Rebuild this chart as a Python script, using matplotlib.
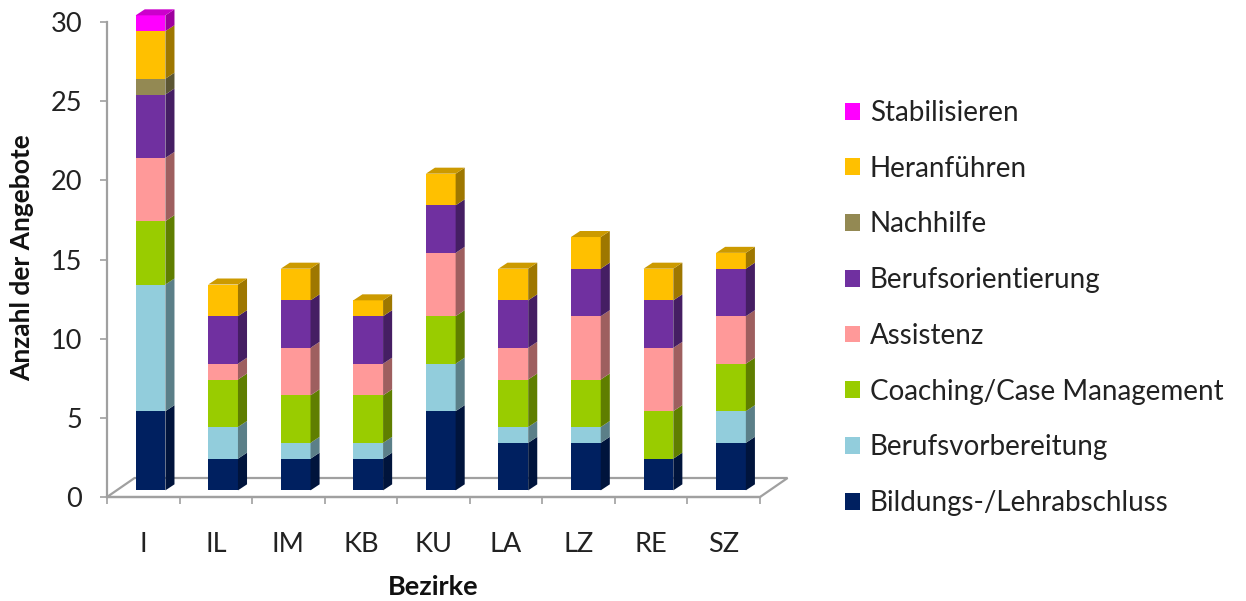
import matplotlib

matplotlib.use("Agg")
import matplotlib.pyplot as plt
import numpy as np
from matplotlib.colors import to_rgb
from matplotlib.patches import Patch, Polygon

plt.rcParams["font.family"] = ["Lato", "DejaVu Sans"]

districts = ["I", "IL", "IM", "KB", "KU", "LA", "LZ", "RE", "SZ"]
series_names = [
    "Bildungs-/Lehrabschluss",
    "Berufsvorbereitung",
    "Coaching/Case Management",
    "Assistenz",
    "Berufsorientierung",
    "Nachhilfe",
    "Heranführen",
    "Stabilisieren",
]
bildung = [5, 2, 2, 2, 5, 3, 3, 2, 3]
vorbereitung = [8, 2, 1, 1, 3, 1, 1, 0, 2]
coaching = [4, 3, 3, 3, 3, 3, 3, 3, 3]
assistenz = [4, 1, 3, 2, 4, 2, 4, 4, 3]
orientierung = [4, 3, 3, 3, 3, 3, 3, 3, 3]
nachhilfe = [1, 0, 0, 0, 0, 0, 0, 0, 0]
heranfuehren = [3, 2, 2, 1, 2, 2, 2, 2, 1]
stabilisieren = [1, 0, 0, 0, 0, 0, 0, 0, 0]
series_colors = ["#002060", "#92CDDC", "#99CC00", "#FF9999", "#7030A0", "#938953", "#FFC000", "#FF00FF"]

all_series = [bildung, vorbereitung, coaching, assistenz, orientierung, nachhilfe, heranfuehren, stabilisieren]

# fake 3d look (Excel style)
BAR_W = 0.41
BAR_SHIFT = 0.1
LIFT = 0.42
DEPTH_X = 0.125
DEPTH_Y = 0.38
FLOOR_X = 0.38
FLOOR_Y = 1.2
GRAY = "#A0A0A0"
TEXT = "#222222"


def shade(color, factor):
    return tuple(c * factor for c in to_rgb(color))


fig = plt.figure(figsize=(12.46, 6.01), dpi=100)
ax = fig.add_axes([107 / 1246, 104 / 601, 653 / 1246, 475 / 601])
ax.set_xlim(-0.5, len(districts) - 0.5)
ax.set_ylim(0, 30)

floor = Polygon(
    [(-0.5, 0), (-0.5 + FLOOR_X, FLOOR_Y), (len(districts) - 0.5 + FLOOR_X, FLOOR_Y), (len(districts) - 0.5, 0)],
    closed=True, facecolor="white", edgecolor=GRAY, linewidth=1.6, clip_on=False, zorder=1,
)
ax.add_patch(floor)

xs = np.arange(len(districts)) + BAR_SHIFT
bottoms = np.full(len(districts), LIFT, dtype=float)
for values, color in zip(all_series, series_colors):
    values = np.asarray(values, dtype=float)
    ax.bar(xs, values, width=BAR_W, bottom=bottoms, color=color, linewidth=0, zorder=3, clip_on=False)
    for x, v, b in zip(xs, values, bottoms):
        if v <= 0:
            continue
        x1 = x + BAR_W / 2
        side = Polygon(
            [(x1, b), (x1 + DEPTH_X, b + DEPTH_Y), (x1 + DEPTH_X, b + v + DEPTH_Y), (x1, b + v)],
            closed=True, facecolor=shade(color, 0.62), linewidth=0, zorder=3, clip_on=False,
        )
        ax.add_patch(side)
    bottoms = bottoms + values

for i, (x, top) in enumerate(zip(xs, bottoms)):
    # colour of the highest non-zero segment
    top_color = [c for vals, c in zip(all_series, series_colors) if vals[i] > 0][-1]
    x0 = x - BAR_W / 2
    x1 = x + BAR_W / 2
    lid = Polygon(
        [(x0, top), (x1, top), (x1 + DEPTH_X, top + DEPTH_Y), (x0 + DEPTH_X, top + DEPTH_Y)],
        closed=True, facecolor=shade(top_color, 0.8), linewidth=0, zorder=3, clip_on=False,
    )
    ax.add_patch(lid)

for side in ["top", "right"]:
    ax.spines[side].set_visible(False)
for side in ["left", "bottom"]:
    ax.spines[side].set_color(GRAY)
    ax.spines[side].set_linewidth(1.6)

ax.set_yticks(np.arange(0, 31, 5))
ax.tick_params(axis="y", direction="out", length=5, width=1.2, color=GRAY, pad=13, labelsize=19.5, labelcolor=TEXT)
ax.set_xticks(np.arange(-0.5, len(districts), 1))
ax.set_xticklabels([])
ax.set_xticks(np.arange(len(districts)), minor=True)
ax.set_xticklabels(districts, minor=True)
ax.tick_params(axis="x", which="major", direction="out", length=5, width=1.2, color=GRAY)
ax.tick_params(axis="x", which="minor", length=0, pad=25, labelsize=19.5, labelcolor=TEXT)

ax.set_ylabel("Anzahl der Angebote", fontsize=19, fontweight="bold", color="#111111")
ax.yaxis.set_label_coords(-0.112, 0.503)
ax.set_xlabel("Bezirke", fontsize=19.5, fontweight="bold", color="#111111", va="center")
ax.xaxis.set_label_coords(0.5, -0.19)

handles = [Patch(facecolor=c, edgecolor="none") for c in series_colors][::-1]
fig.legend(
    handles, series_names[::-1],
    loc="center left", bbox_to_anchor=(845 / 1246, 1 - 308 / 601),
    frameon=False, fontsize=20, handlelength=0.55, handleheight=0.55,
    handletextpad=0.35, labelspacing=1.07, borderpad=0, borderaxespad=0,
    labelcolor=TEXT,
)

fig.savefig("out.png", dpi=100)
